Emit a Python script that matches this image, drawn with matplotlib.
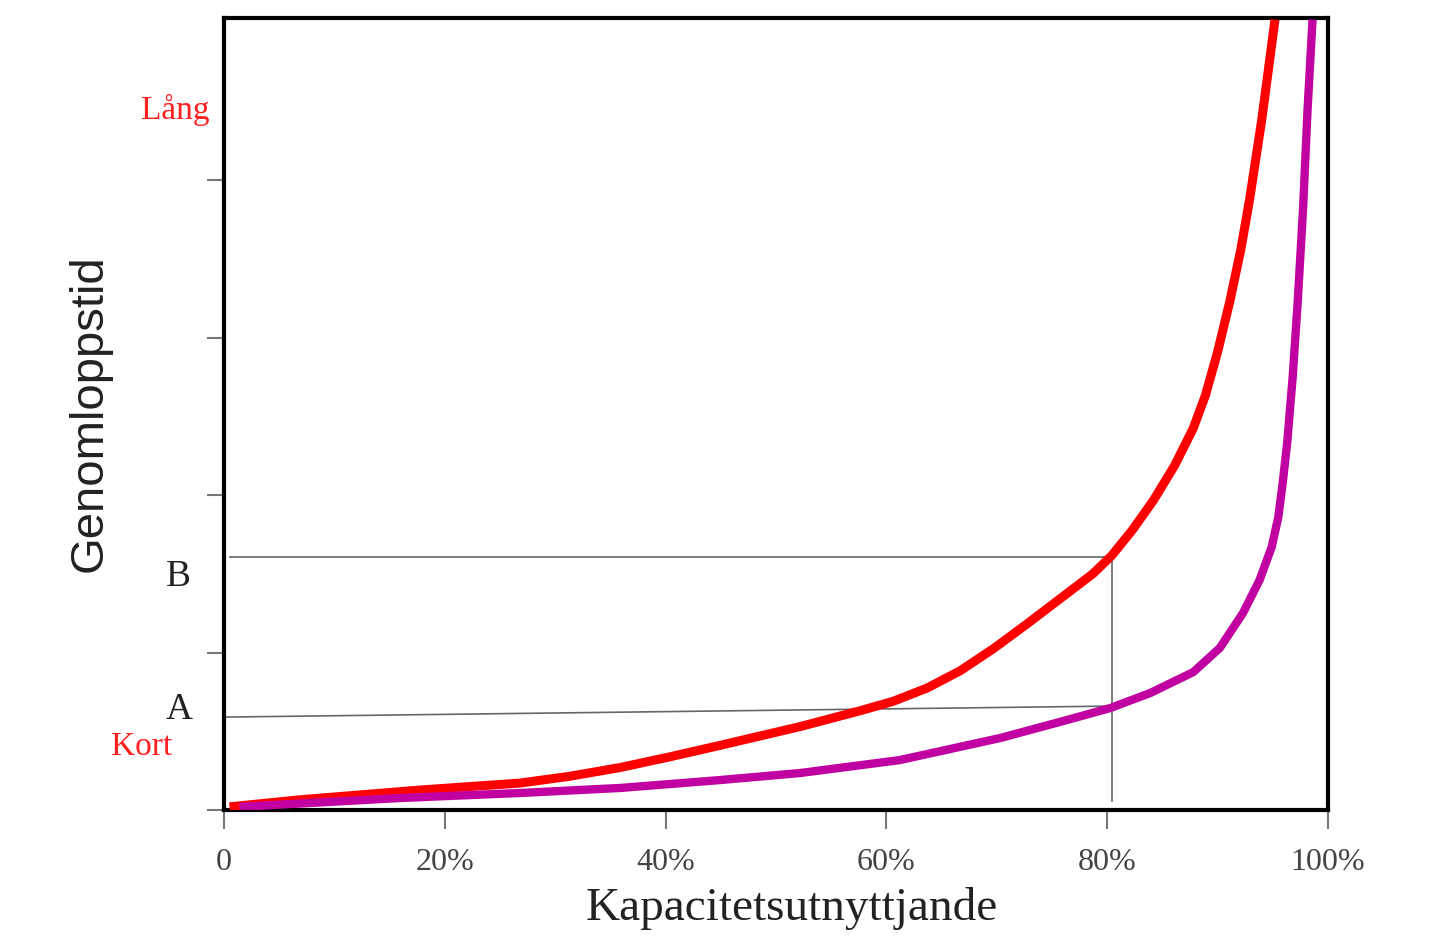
import matplotlib.pyplot as plt

# utilisation (%) and throughput time
red_x = [0.5, 6.9, 17.8, 26.8, 31.3, 35.9, 40.4, 44.9, 52.2, 57.6, 60.6, 63.7, 66.7, 69.7,
         72.7, 75.7, 78.7, 80.4, 82.3, 84.2, 86.1, 87.8, 88.9, 90.0, 91.1, 92.1, 92.9,
         94.0, 95.2]
red_y = [0.02, 0.065, 0.127, 0.171, 0.214, 0.27, 0.338, 0.41, 0.53, 0.63, 0.69,
         0.775, 0.885, 1.025, 1.18, 1.34, 1.50, 1.615, 1.78, 1.968, 2.187, 2.425,
         2.634, 2.909, 3.228, 3.558, 3.878, 4.384, 5.02]

purple_x = [1.4, 15.9, 26.8, 35.9, 44.9, 52.2, 61.2, 70.3, 75.7, 80.3, 83.9, 87.8, 90.2,
            92.3, 93.8, 94.9, 95.5, 95.9, 96.3, 96.8, 97.25, 97.75, 98.15, 98.6]
purple_y = [0.02, 0.076, 0.108, 0.14, 0.19, 0.235, 0.317, 0.457, 0.559, 0.648, 0.743,
            0.876, 1.029, 1.251, 1.46, 1.67, 1.86, 2.08, 2.33, 2.75, 3.22, 3.83,
            4.45, 5.02]

x_ticks = [0, 20, 40, 60, 80, 100]
x_labels = ["0", "20%", "40%", "60%", "80%", "100%"]
y_ticks = [0, 1, 2, 3, 4]

level_a = [0.59, 0.66]   # A line at x=0 and at x=80
level_b = 1.606
x_mark = 80.4

fig = plt.figure(figsize=(14.4, 9.44), dpi=100)
ax = fig.add_axes([224 / 1440, 1 - 810 / 944, 1104 / 1440, 792 / 944])

ax.plot(red_x, red_y, color="#ff0000", lw=6.5, solid_capstyle="butt",
        solid_joinstyle="round", zorder=3)
ax.plot(purple_x, purple_y, color="#c000a0", lw=6.0, solid_capstyle="butt",
        solid_joinstyle="round", zorder=3)

# guide lines for A and B
ax.plot([0.5, x_mark], [level_b, level_b], color="#666666", lw=1.2, zorder=2)
ax.plot([0, x_mark], level_a, color="#666666", lw=1.2, zorder=2)
ax.plot([x_mark, x_mark], [level_b, 0.06], color="#666666", lw=1.2, zorder=2)

ax.set_xlim(0, 100)
ax.set_ylim(0, 5.03)
ax.set_xticks(x_ticks)
ax.set_xticklabels(x_labels, family="Liberation Serif", fontsize=23, color="#444444")
ax.set_yticks(y_ticks)
ax.set_yticklabels([])
ax.tick_params(axis="x", direction="out", length=14, width=1.5, color="#777777", pad=13)
ax.tick_params(axis="y", direction="out", length=12, width=1.5, color="#777777")
for s in ax.spines.values():
    s.set_linewidth(3)
    s.set_color("black")

fig.text(792 / 1440, 1 - 908 / 944, "Kapacitetsutnyttjande", family="Liberation Serif",
         fontsize=34, ha="center", va="center", color="#222222")
fig.text(90 / 1440, 1 - 413 / 944, "Genomloppstid", family="Liberation Sans",
         fontsize=34, rotation=90, ha="center", va="center", color="#222222")

serif = "Liberation Serif"
fig.text(175 / 1440, 1 - 110 / 944, "Lång", family=serif, fontsize=24, color="#ff2020",
         ha="center", va="center")
fig.text(142 / 1440, 1 - 747 / 944, "Kort", family=serif, fontsize=24, color="#ff2020",
         ha="center", va="center")
fig.text(178 / 1440, 1 - 577 / 944, "B", family=serif, fontsize=27, color="#222222",
         ha="center", va="center")
fig.text(179 / 1440, 1 - 710 / 944, "A", family=serif, fontsize=27, color="#222222",
         ha="center", va="center")

fig.savefig("out.png", dpi=100)
